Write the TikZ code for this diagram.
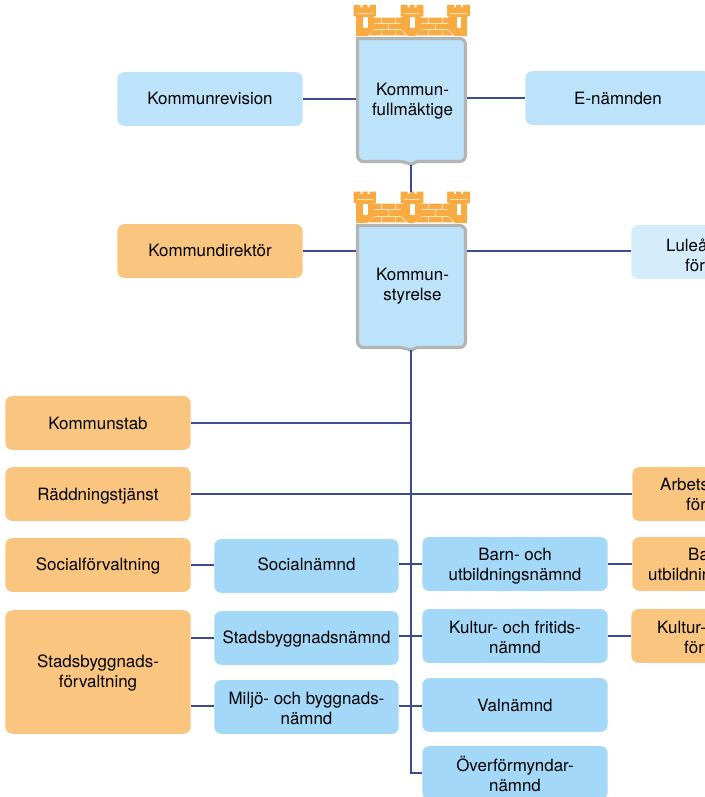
\documentclass[tikz,border=0pt]{standalone}
\usepackage{fontspec}
\setmainfont{TeX Gyre Heros}
\definecolor{nblue}{HTML}{A3D8F8}
\definecolor{tblue}{HTML}{BDE3FB}
\definecolor{pblue}{HTML}{D5ECFB}
\definecolor{norange}{HTML}{FAC57E}
\definecolor{torange}{HTML}{F9AB42}
\definecolor{brick}{HTML}{FDE3BC}
\definecolor{linkc}{HTML}{3D4A94}
\definecolor{edgeg}{HTML}{B4B4B4}
\tikzset{
 boxbase/.style={rounded corners=7,minimum height=54,minimum width=186,inner sep=0,align=center,text=black,font=\fontsize{17}{20}\selectfont},
 nbox/.style={boxbase,fill=nblue},
 tbox/.style={boxbase,fill=tblue},
 pbox/.style={boxbase,fill=pblue},
 obox/.style={boxbase,fill=norange},
 frag/.style={anchor=base west,inner sep=0,text=black,font=\fontsize{17}{20}\selectfont},
 link/.style={draw=linkc,line width=1.4},
 brickline/.style={draw=brick,line width=0.9},
 shield/.style={draw=edgeg,line width=3.2,fill=tblue},
}
\newlength{\tlshift}
\newcommand{\tl}[2]{\setlength{\tlshift}{\dimexpr -4.25bp-2bp-#1bp\relax}\raisebox{\tlshift}[0pt][0pt]{\begin{tabular}{@{}c@{}}#2\end{tabular}}}
\newcommand{\onetower}[1]{%
 \fill[torange] (#1,5) -- (#1+7,5) -- (#1+7,7.5) -- (#1+9,7.5) -- (#1+9,5) -- (#1+14,5) -- (#1+14,7.5) -- (#1+16,7.5) -- (#1+16,5) -- (#1+23,5) -- (#1+23,16.5) -- (#1+20,16.5) -- (#1+20,30.5) -- (#1+14,36) -- (#1+8,36) -- (#1+2.5,30.5) -- (#1+2.5,16.5) -- (#1,16.5) -- cycle;
 \fill[white] (#1+9.5,17.5) rectangle (#1+14,28);
 \draw[brickline,line width=.8] (#1+3,13) -- (#1+19.5,13);
}
\newcommand{\onewall}[1]{%
 \draw[brickline] (#1,17) -- (#1+27,17) (#1,23.2) -- (#1+27,23.2) (#1,29.5) -- (#1+27,29.5) (#1-8,35.7) -- (#1+35,35.7);
 \draw[brickline] (#1+7,17) -- (#1+7,23.2) (#1+21,17) -- (#1+21,23.2) (#1+14,23.2) -- (#1+14,29.5) (#1+7,29.5) -- (#1+7,35.7) (#1+21,29.5) -- (#1+21,35.7);
 \draw[brickline] (#1-0.5,30) -- (#1-6.5,36) (#1+27.5,30) -- (#1+33.5,36);
}
\newcommand{\castle}{%
 \fill[torange] (356,17) rectangle (467,36);
 \onewall{374}\onewall{421}
 \onetower{353.5}\onetower{400.5}\onetower{447}
 \fill[white] (376,5) rectangle (400,16.5) (423.5,5) rectangle (447,16.5);
}
\begin{document}
\begin{tikzpicture}[x=1bp,y=-1bp]
\useasboundingbox (0,0) rectangle (705,797);
\clip (0,0) rectangle (705,797);
% shields
\path[shield] (357.5,38.5) [rounded corners=6] -- (357.5,161.5) -- (405,161.5) [sharp corners] -- (411,164.5) -- (417,161.5) [rounded corners=6] -- (465.5,161.5) -- (465.5,38.5) [sharp corners] -- cycle;
\path[shield] (357.5,225.5) [rounded corners=6] -- (357.5,347.5) -- (405,347.5) [sharp corners] -- (411,350.5) -- (417,347.5) [rounded corners=6] -- (465.5,347.5) -- (465.5,225.5) [sharp corners] -- cycle;
\node[boxbase,minimum width=108,minimum height=124,rounded corners=0] (fm) at (412.5,100) {\tl{-0.5}{Kommun-\\fullmäktige}};
\node[boxbase,minimum width=108,minimum height=123,rounded corners=0] (ks) at (412.5,286) {\tl{-1}{Kommun-\\styrelse}};
\castle
\begin{scope}[yshift=-186.7bp]\castle\end{scope}
% boxes
\node[tbox] (rev) at (210,99) {\tl{0}{Kommunrevision}};
\node[tbox] (en) at (618,98) {\tl{1}{E-nämnden}};
\node[obox] (dir) at (210,251) {\tl{0}{Kommundirektör}};
\node[pbox] (lul) at (724,252) {};
\node[frag] (lula) at (666,251) {Luleå};
\node[frag] (lulb) at (685,271) {för};
\node[obox] (stab) at (98,423) {\tl{1}{Kommunstab}};
\node[obox] (rad) at (98,494) {\tl{1}{Räddningstjänst}};
\node[obox] (arb) at (725,494) {};
\node[frag] (arba) at (660,490) {Arbets};
\node[frag] (arbb) at (686,510) {för};
\node[obox] (sfv) at (98,565) {\tl{0}{Socialförvaltning}};
\node[nbox,minimum width=185] (sn) at (306.5,566) {\tl{-1}{Socialnämnd}};
\node[nbox] (bn) at (515,564) {\tl{0.5}{Barn- och\\utbildningsnämnd}};
\node[obox] (bf) at (725,564) {};
\node[frag] (bfa) at (688,560) {Ba};
\node[frag] (bfb) at (648,580) {utbildnin};
\node[obox,minimum height=124] (sbf) at (98,672) {\tl{-0.5}{Stadsbyggnads-\\förvaltning}};
\node[nbox,minimum width=185] (sbn) at (306.5,638) {\tl{0}{Stadsbyggnadsnämnd}};
\node[nbox] (kn) at (515,636) {\tl{2}{Kultur- och fritids-\\nämnd}};
\node[obox] (kf) at (724,636) {};
\node[frag] (kfa) at (657,633) {Kultur-};
\node[frag] (kfb) at (684,653) {förv};
\node[nbox,minimum width=185] (mn) at (306.5,707) {\tl{1.5}{Miljö- och byggnads-\\nämnd}};
\node[nbox] (vn) at (515,705) {\tl{1}{Valnämnd}};
\node[nbox] (on) at (515,773) {\tl{2}{Överförmyndar-\\nämnd}};
% connectors
\coordinate (tt) at (411,165);
\coordinate (t2) at (411,192);
\coordinate (ttop) at (411,350);
\coordinate (fmw) at (356,99);
\coordinate (fme) at (467,99);
\coordinate (ksw) at (356,251);
\coordinate (kse) at (467,251);
\coordinate (stabj) at (411,423);
\coordinate (trunkend) at (411,773);
\coordinate (rowv) at (411,706);
\draw[link] (tt) -- (t2);
\draw[link] (rev.east) -- (fmw);
\draw[link] (fme |- en.west) -- (en.west);
\draw[link] (dir.east) -- (ksw);
\draw[link] (kse) -- (kse -| lul.west);
\draw[link] (ttop) -- (trunkend) -- (on.west);
\draw[link] (stab.east) -- (stabj);
\draw[link] (rad.east) -- (arb.west);
\draw[link] (sfv.east) -- (sfv.east -| sn.west);
\draw[link] (sn.east |- bn.west) -- (bn.west);
\draw[link] (bn.east) -- (bf.west);
\draw[link] (sbf.east |- sbn.west) -- (sbn.west);
\draw[link] (sbn.east |- kn.west) -- (kn.west);
\draw[link] (kn.east) -- (kf.west);
\draw[link] (sbf.east |- rowv) -- (mn.west |- rowv);
\draw[link] (mn.east |- rowv) -- (vn.west |- rowv);
\end{tikzpicture}
\end{document}
